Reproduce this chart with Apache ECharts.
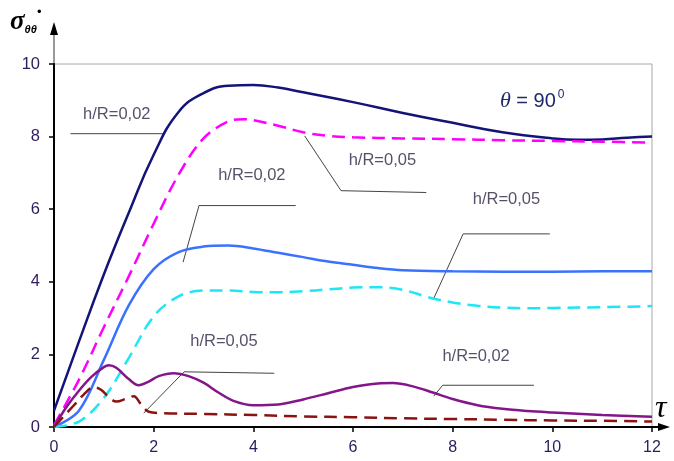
<!DOCTYPE html>
<html>
<head>
<meta charset="utf-8">
<script src="https://cdn.jsdelivr.net/npm/echarts@6/dist/echarts.min.js"></script>
<style>
html,body{margin:0;padding:0;background:#fff;}
#c{width:674px;height:461px;}
</style>
</head>
<body>
<div id="c"></div>
<script>
// ---- data (tau, sigma) ----
const xTicks = [0, 2, 4, 6, 8, 10, 12];
const yTicks = [0, 2, 4, 6, 8, 10];

const tNavy = [0, 0.5, 1, 1.5, 2, 2.5, 3, 3.5, 4, 4.5, 5, 6, 7, 8, 9, 10, 10.5, 11, 11.5, 12];
const vNavy = [0.45, 2.35, 4.2, 5.9, 7.5, 8.68, 9.2, 9.4, 9.42, 9.35, 9.22, 8.95, 8.65, 8.38, 8.12, 7.95, 7.91, 7.92, 7.97, 8.0];

const tMagenta = [0, 0.5, 1, 1.5, 2, 2.5, 3, 3.5, 3.8, 4, 4.5, 5, 5.5, 6, 7, 8, 9, 10, 11, 12];
const vMagenta = [0.05, 1.3, 2.75, 4.15, 5.6, 6.95, 7.95, 8.42, 8.48, 8.45, 8.3, 8.12, 8.02, 7.98, 7.95, 7.93, 7.9, 7.88, 7.86, 7.83];

const tBlue = [0, 0.5, 1, 1.5, 2, 2.5, 3, 3.5, 4, 4.5, 5, 5.5, 6, 6.5, 7, 8, 9, 10, 11, 12];
const vBlue = [0, 0.45, 1.85, 3.35, 4.35, 4.82, 4.97, 5.0, 4.92, 4.8, 4.68, 4.56, 4.47, 4.38, 4.32, 4.29, 4.28, 4.28, 4.29, 4.29];

const tCyan = [0, 0.5, 1, 1.5, 2, 2.5, 3, 3.5, 4, 4.5, 5, 5.5, 6, 6.5, 7, 7.5, 8, 8.5, 9, 9.5, 10, 11, 12];
const vCyan = [0, 0.15, 0.8, 1.9, 3.05, 3.6, 3.76, 3.76, 3.72, 3.71, 3.74, 3.79, 3.84, 3.85, 3.78, 3.58, 3.43, 3.34, 3.29, 3.27, 3.28, 3.3, 3.33];

const tPurple = [0, 0.25, 0.5, 0.75, 1.0, 1.1, 1.25, 1.5, 1.7, 1.9, 2.1, 2.4, 2.7, 3.0, 3.3, 3.6, 4.0, 4.5, 5.0, 5.5, 6.0, 6.5, 6.8, 7.2, 7.6, 8.0, 8.5, 9.0, 9.5, 10, 11, 12];
const vPurple = [0, 0.55, 1.0, 1.38, 1.65, 1.7, 1.63, 1.32, 1.15, 1.25, 1.4, 1.48, 1.4, 1.22, 0.95, 0.72, 0.6, 0.62, 0.76, 0.93, 1.1, 1.2, 1.21, 1.12, 0.95, 0.77, 0.6, 0.5, 0.44, 0.4, 0.33, 0.28];

const tRed = [0, 0.2, 0.4, 0.6, 0.8, 0.95, 1.1, 1.25, 1.45, 1.6, 1.75, 1.9, 2.2, 3, 4, 5, 6, 7, 8, 9, 10, 11, 12];
const vRed = [0, 0.3, 0.6, 0.9, 1.1, 1.02, 0.82, 0.7, 0.78, 0.85, 0.62, 0.42, 0.38, 0.36, 0.33, 0.29, 0.27, 0.24, 0.22, 0.2, 0.18, 0.17, 0.15];

// annotation labels: text and anchor (tau, sigma)
const labelTexts = ['h/R=0,02', 'h/R=0,05', 'h/R=0,02', 'h/R=0,05', 'h/R=0,05', 'h/R=0,02'];
const labelT = [1.26, 6.59, 3.97, 9.08, 3.41, 8.47];
const labelV = [8.6, 7.34, 6.92, 6.26, 2.36, 1.95];
// leader lines (polylines in tau, sigma)
const leaderT = [[0.33, 2.2], [5.03, 5.76, 7.47], [2.59, 2.91, 4.85], [7.62, 8.21, 9.95], [1.8, 2.61, 4.42], [7.62, 7.8, 9.63]];
const leaderV = [[8.08, 8.08], [8.02, 6.51, 6.46], [4.54, 6.1, 6.1], [3.54, 5.32, 5.32], [0.38, 1.52, 1.48], [0.85, 1.15, 1.15]];

function pairs(t, v) { return t.map((x, i) => [x, v[i]]); }

const chart = echarts.init(document.getElementById('c'), null, {renderer: 'canvas'});

const curves = [
  {t: tNavy, v: vNavy, color: '#141478', type: 'solid', w: 2.5, s: 0.45},
  {t: tMagenta, v: vMagenta, color: '#ff00ff', type: [13, 7], w: 2.5, s: 0.35},
  {t: tBlue, v: vBlue, color: '#3a72ff', type: 'solid', w: 2.5, s: 0.35},
  {t: tCyan, v: vCyan, color: '#1ee6f5', type: [13, 7], w: 2.5, s: 0.35},
  {t: tPurple, v: vPurple, color: '#84168a', type: 'solid', w: 2.5, s: 0.35},
  {t: tRed, v: vRed, color: '#8c1212', type: [13, 7], w: 2.5, s: 0.35}
];

const series = [];
leaderT.forEach((lt, i) => {
  series.push({
    type: 'line', data: pairs(lt, leaderV[i]), silent: true, symbol: 'none',
    lineStyle: {color: '#444', width: 1}, z: 1, animation: false
  });
});
curves.forEach(c => {
  series.push({
    type: 'line', data: pairs(c.t, c.v), smooth: c.s, symbol: 'none',
    lineStyle: {color: c.color, width: c.w, type: c.type}, z: 3, animation: false
  });
});
series.push({
  type: 'scatter', symbolSize: 0, silent: true, animation: false, z: 5,
  data: labelT.map((t, i) => ({value: [t, labelV[i]], name: labelTexts[i]})),
  label: {show: true, position: 'inside', formatter: p => p.name,
    fontFamily: 'Liberation Sans, Arial, sans-serif', fontSize: 16.5, color: '#2e2342'}
});

chart.setOption({
  animation: false,
  backgroundColor: '#fff',
  grid: {left: 54, right: 22, top: 64, bottom: 34, show: true, borderColor: '#a8a8a8', borderWidth: 1},
  xAxis: {
    type: 'value', min: 0, max: 12, interval: 2,
    axisLine: {show: true, lineStyle: {color: '#000', width: 2}},
    axisTick: {show: true, length: 5, lineStyle: {color: '#000', width: 1.5}},
    splitLine: {show: false},
    axisLabel: {margin: 13, fontSize: 16, fontFamily: 'Liberation Sans, Arial, sans-serif', color: '#2d1b5e',
      formatter: v => xTicks.includes(v) ? String(v) : ''}
  },
  yAxis: {
    type: 'value', min: 0, max: 10, interval: 2,
    axisLine: {show: true, lineStyle: {color: '#000', width: 2}},
    axisTick: {show: true, length: 5, lineStyle: {color: '#000', width: 1.5}},
    splitLine: {show: false},
    axisLabel: {margin: 14, fontSize: 16.5, fontFamily: 'Liberation Sans, Arial, sans-serif', color: '#2d1b5e',
      formatter: v => yTicks.includes(v) ? String(v) : ''}
  },
  series: series
});

// decorations: axis arrows, axis titles, theta note
const pOrigin = chart.convertToPixel({gridIndex: 0}, [0, 0]);
const pTop = chart.convertToPixel({gridIndex: 0}, [0, 10]);
const pRight = chart.convertToPixel({gridIndex: 0}, [12, 0]);
const pTheta = chart.convertToPixel({gridIndex: 0}, [9.55, 9.0]);
chart.setOption({
  graphic: [
    {type: 'line', shape: {x1: pOrigin[0], y1: pTop[1], x2: pOrigin[0], y2: pTop[1] - 38}, style: {stroke: '#555', lineWidth: 1.2}},
    {type: 'polygon', shape: {points: [[pOrigin[0], pTop[1] - 42], [pOrigin[0] - 4, pTop[1] - 29], [pOrigin[0] + 4, pTop[1] - 29]]}, style: {fill: '#000'}},
    {type: 'line', shape: {x1: pRight[0], y1: pOrigin[1], x2: pRight[0] + 14, y2: pOrigin[1]}, style: {stroke: '#000', lineWidth: 2}},
    {type: 'polygon', shape: {points: [[pRight[0] + 18, pOrigin[1]], [pRight[0] + 6, pOrigin[1] - 4], [pRight[0] + 6, pOrigin[1] + 4]]}, style: {fill: '#000'}},
    {type: 'text', left: 10, top: 9, style: {
      text: '{s|σ}{sub|θθ}', rich: {
        s: {fontFamily: 'Liberation Serif, Times New Roman, serif', fontSize: 27, fontWeight: 'bold', fontStyle: 'italic', fill: '#000'},
        sub: {fontFamily: 'Liberation Sans, Arial, sans-serif', fontSize: 11, fontWeight: 'bold', fontStyle: 'italic', fill: '#000', padding: [14, 0, 0, 0]}
      }}},
    {type: 'text', left: 37, top: 6, style: {text: '•', fontSize: 13, fill: '#000'}},
    {type: 'text', left: pRight[0] + 3, top: pOrigin[1] - 34, style: {text: 'τ', fontFamily: 'Liberation Serif, Times New Roman, serif', fontSize: 32, fontStyle: 'italic', fill: '#000'}},
    {type: 'text', x: pTheta[0] - 30, y: pTheta[1] - 12, style: {
      text: '{t|θ}{e| = 90}{sup|0}', rich: {
        t: {fontFamily: 'Liberation Serif, Times New Roman, serif', fontSize: 22, fontStyle: 'italic', fill: '#1f2a6b'},
        e: {fontFamily: 'Liberation Sans Narrow, Liberation Sans, Arial, sans-serif', fontSize: 20, fill: '#1f2a6b'},
        sup: {fontFamily: 'Liberation Sans Narrow, Liberation Sans, Arial, sans-serif', fontSize: 12, fill: '#1f2a6b', padding: [0, 0, 14, 2]}
      }}}
  ]
});
</script>
</body>
</html>
